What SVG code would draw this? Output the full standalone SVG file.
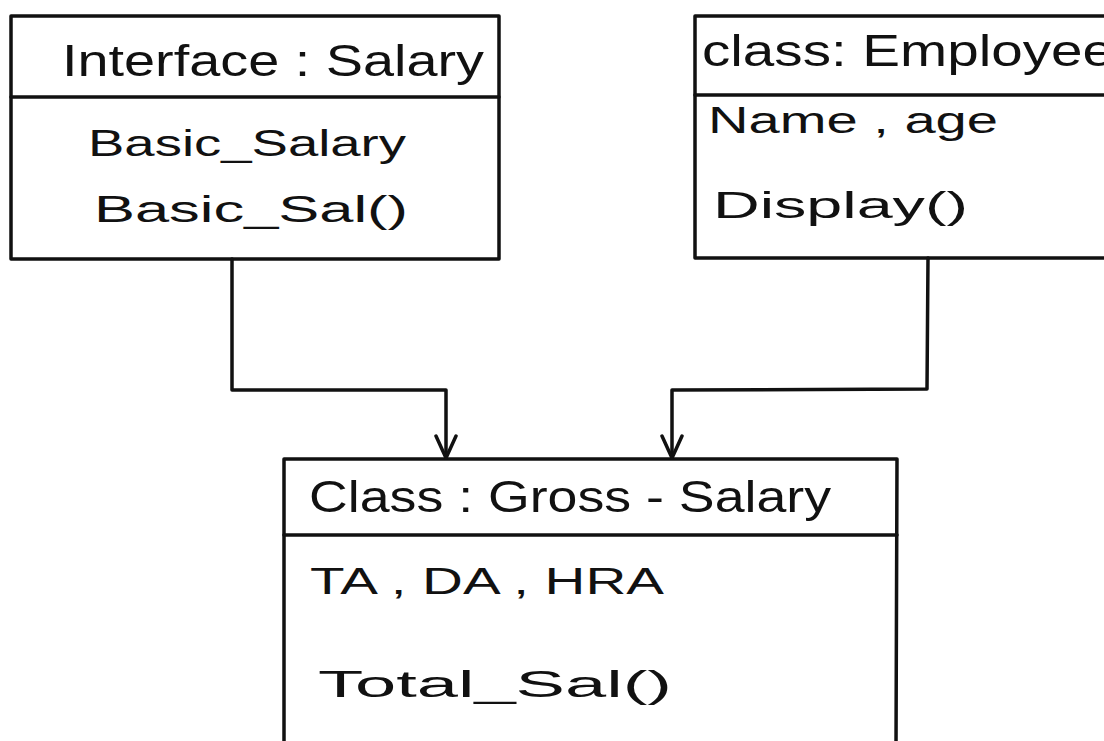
<svg xmlns="http://www.w3.org/2000/svg" width="1104" height="741" viewBox="0 0 1104 741">
<style>
.box{fill:none;stroke:#111;stroke-width:3.5;stroke-linecap:round;stroke-linejoin:round}
.ln{fill:none;stroke:#111;stroke-width:3.5;stroke-linecap:round;stroke-linejoin:round}
.t{font-family:"Liberation Sans","DejaVu Sans",sans-serif;fill:#111}
.h{font-size:44px}
.b{font-size:36px}
</style>
<defs>
<marker id="v" viewBox="0 0 26 26" refX="24" refY="13" markerWidth="26" markerHeight="26" markerUnits="userSpaceOnUse" orient="auto">
<path d="M2 3 L24 13 L2 23" fill="none" stroke="#111" stroke-width="3.5" stroke-linecap="round" stroke-linejoin="round"/>
</marker>
</defs>
<rect width="1104" height="741" fill="#fff"/>
<g id="salary">
<rect class="box" x="11" y="16" width="488" height="243"/>
<line class="box" x1="11" y1="97" x2="499" y2="97"/>
<text class="t h" x="62" y="76" textLength="422" lengthAdjust="spacingAndGlyphs">Interface : Salary</text>
<text class="t b" x="88" y="156" textLength="318" lengthAdjust="spacingAndGlyphs">Basic_Salary</text>
<text class="t b" x="94" y="222" textLength="314" lengthAdjust="spacingAndGlyphs">Basic_Sal()</text>
</g>
<g id="employee">
<rect class="box" x="695" y="16" width="420" height="242"/>
<line class="box" x1="695" y1="95" x2="1110" y2="95"/>
<text class="t h" x="702" y="66" textLength="412" lengthAdjust="spacingAndGlyphs">class: Employee</text>
<text class="t b" x="708" y="133" textLength="290" lengthAdjust="spacingAndGlyphs">Name , age</text>
<text class="t b" x="713" y="218" textLength="255" lengthAdjust="spacingAndGlyphs">Display()</text>
</g>
<g id="gross">
<path class="box" d="M284 750 L284 459 L897 459 L896 750"/>
<line class="box" x1="284" y1="535" x2="897" y2="535"/>
<text class="t h" x="309" y="512" textLength="522" lengthAdjust="spacingAndGlyphs">Class : Gross - Salary</text>
<text class="t b" x="310" y="594" textLength="354" lengthAdjust="spacingAndGlyphs">TA , DA , HRA</text>
<text class="t b" x="318" y="697" textLength="354" lengthAdjust="spacingAndGlyphs">Total_Sal()</text>
</g>
<g id="connectors">
<path class="ln" d="M232 259 L232 390 L446 390 L446 458" marker-end="url(#v)"/>
<path class="ln" d="M928 258 L927 389 L672 390 L672 458" marker-end="url(#v)"/>
</g>
</svg>
